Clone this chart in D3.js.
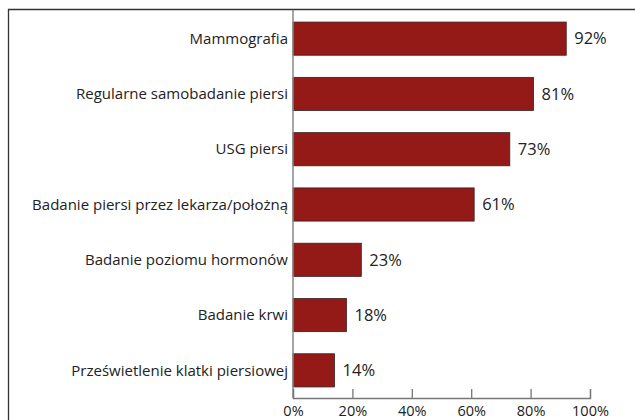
<!DOCTYPE html>
<html>
<head>
<meta charset="utf-8">
<script src="https://cdn.jsdelivr.net/npm/d3@7"></script>
<style>
  body { margin: 0; background: #fff; }
  svg { display: block; font-family: "Open Sans", sans-serif; }
</style>
</head>
<body>
<div class="canvas"></div>
<script>
// badania - kategorie i odsetki
const categories = [
  'Mammografia',
  'Regularne samobadanie piersi',
  'USG piersi',
  'Badanie piersi przez lekarza/położną',
  'Badanie poziomu hormonów',
  'Badanie krwi',
  'Prześwietlenie klatki piersiowej'
];
const values = [92, 81, 73, 61, 23, 18, 14];
const ticks = [0, 20, 40, 60, 80, 100];

const data = categories.map((c, i) => ({ name: c, value: values[i] }));

const svg = d3.select('.canvas')
  .append('svg')
    .attr('width', 635)
    .attr('height', 420);

// ramka
svg.append('path')
  .attr('d', 'M8.5,425V9.5H640')
  .attr('fill', 'none')
  .attr('stroke', '#333')
  .attr('stroke-width', 1.3);

const x = d3.scaleLinear()
  .domain([0, 100])
  .range([293, 590]);

const y = d3.scaleBand()
  .domain(categories)
  .range([11, 398])
  .paddingInner(0.4)
  .paddingOuter(0.2);

// bars
svg.selectAll('rect.bar')
  .data(data)
  .enter()
  .append('rect')
    .attr('class', 'bar')
    .attr('x', x(0))
    .attr('y', d => y(d.name))
    .attr('width', d => x(d.value) - x(0))
    .attr('height', y.bandwidth())
    .attr('fill', '#931a16')
    .attr('stroke', '#3a2222')
    .attr('stroke-width', 0.8);

// lewa os
svg.append('line')
  .attr('x1', x(0)).attr('x2', x(0))
  .attr('y1', 10).attr('y2', 398)
  .attr('stroke', '#888')
  .attr('stroke-width', 1.5);

// dolna os
const xAxis = d3.axisBottom(x)
  .tickValues(ticks)
  .tickFormat(d => d + '%')
  .tickSizeInner(-9)
  .tickSizeOuter(-9)
  .tickPadding(8);

const gx = svg.append('g')
  .attr('transform', 'translate(0,398)')
  .call(xAxis);
gx.select('.domain').attr('stroke', '#777').attr('stroke-width', 1.3);
gx.selectAll('.tick line').attr('stroke', '#777').attr('stroke-width', 1.3);
gx.selectAll('.tick text')
  .attr('fill', '#222')
  .style('font-size', '14.5px')
  .style('font-family', '"Open Sans", sans-serif');

// etykiety kategorii
svg.selectAll('text.cat')
  .data(data)
  .enter()
  .append('text')
    .attr('class', 'cat')
    .attr('x', x(0) - 5)
    .attr('y', d => y(d.name) + y.bandwidth() / 2)
    .attr('dy', '0.35em')
    .attr('text-anchor', 'end')
    .attr('fill', '#222')
    .style('font-size', '15px')
    .text(d => d.name);

// wartosci
svg.selectAll('text.val')
  .data(data)
  .enter()
  .append('text')
    .attr('class', 'val')
    .attr('x', d => x(d.value) + 8)
    .attr('y', d => y(d.name) + y.bandwidth() / 2)
    .attr('dy', '0.35em')
    .attr('fill', '#222')
    .style('font-size', '16.5px')
    .text(d => d.value + '%');
</script>
</body>
</html>
